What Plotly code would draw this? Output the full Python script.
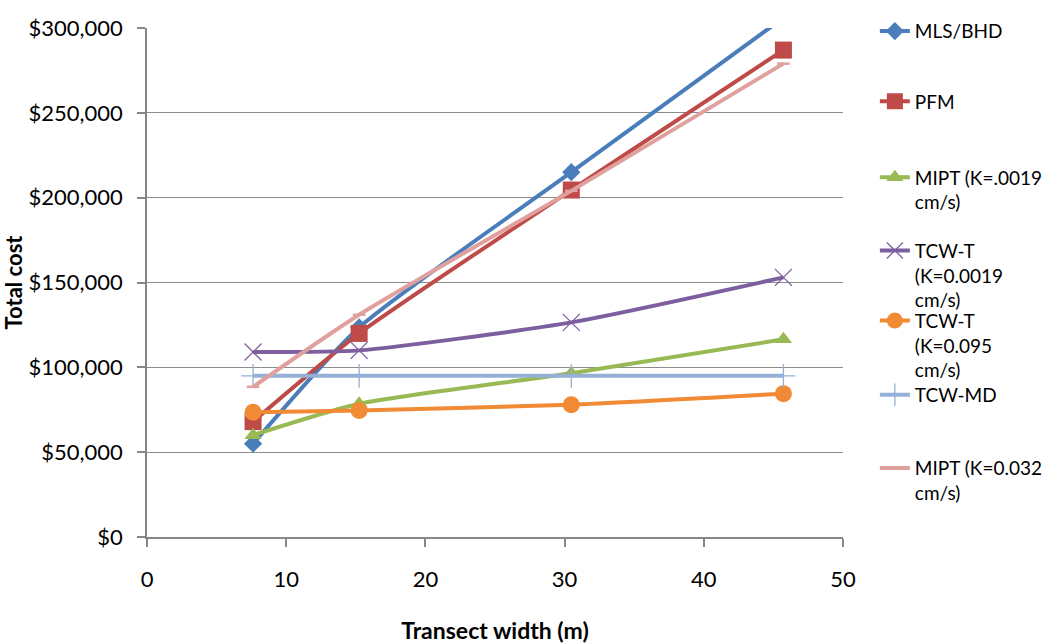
import plotly.graph_objects as go

widths = [7.62, 15.24, 30.48, 45.72]

series_names = [
    "MLS/BHD",
    "PFM",
    "MIPT (K=.0019<br>cm/s)",
    "TCW-T<br>(K=0.0019<br>cm/s)",
    "TCW-T<br>(K=0.095<br>cm/s)",
    "TCW-MD",
    "MIPT (K=0.032<br>cm/s)",
]

mls_bhd = [55000, 123500, 215000, 306000]
pfm = [68000, 120000, 204500, 287000]
mipt_0019 = [60000, 78500, 96500, 116500]
tcw_t_0019 = [109000, 110000, 126500, 153000]
tcw_t_095 = [73500, 74500, 78000, 84500]
tcw_md = [95000, 95000, 95000, 95000]
mipt_032 = [88500, 131000, 204000, 279000]

y_ticks = [0, 50000, 100000, 150000, 200000, 250000, 300000]
y_tick_labels = ["$0", "$50,000", "$100,000", "$150,000", "$200,000", "$250,000", "$300,000"]
x_ticks = [0, 10, 20, 30, 40, 50]

values = [mls_bhd, pfm, mipt_0019, tcw_t_0019, tcw_t_095, tcw_md, mipt_032]
colors = ["#4A7EBB", "#BE4B48", "#98B954", "#7D5FA0", "#F08A35", "#94B0D6", "#E0A09E"]
symbols = ["diamond", "square", "triangle-up", "x-thin", "circle", "cross-thin", "line-ew"]
sizes = [14, 17, 15, 17, 17, 17, 9]
legend_centers = [29, 100, 177, 251, 322, 397, 471]

FONT = "Lato"
W, H = 1060, 644
L, R, T, B = 147, 214, 22, 107
plot_w = W - L - R
plot_h = H - T - B

fig = go.Figure()
for i, (name, vals) in enumerate(zip(series_names, values)):
    thin = symbols[i] in ("x-thin", "cross-thin", "line-ew")
    marker = dict(symbol=symbols[i], size=sizes[i], color=colors[i])
    if thin:
        marker["line"] = dict(color=colors[i], width=1.3 if symbols[i] != "line-ew" else 2.5)
    else:
        marker["line"] = dict(width=0)
    lg = "legend" if i == 0 else f"legend{i+1}"
    fig.add_trace(go.Scatter(
        x=widths, y=vals, name=name, mode="lines+markers",
        line=dict(color=colors[i], width=4, shape="spline", smoothing=0.6),
        marker=marker, legend=lg,
    ))

layout_legends = {}
for i, c in enumerate(legend_centers):
    key = "legend" if i == 0 else f"legend{i+1}"
    top_px = c - 23
    layout_legends[key] = dict(
        x=(878 - L) / plot_w, xanchor="left",
        y=(H - B - top_px) / plot_h, yanchor="top",
        bgcolor="rgba(0,0,0,0)", borderwidth=0,
        font=dict(family=FONT, size=19, color="#000000"),
        valign="top", itemwidth=30, tracegroupgap=0,
    )

fig.update_layout(
    width=W, height=H,
    margin=dict(l=L, r=R, t=T, b=B),
    paper_bgcolor="white", plot_bgcolor="white",
    font=dict(family=FONT, size=21, color="#000000"),
    showlegend=True,
    **layout_legends,
)

fig.update_xaxes(
    range=[0, 50], tickvals=x_ticks, ticktext=[str(v) for v in x_ticks],
    automargin=False,
    showgrid=False, zeroline=False,
    showline=True, linecolor="#868686", linewidth=1.5,
    ticks="outside", ticklen=8, tickcolor="#868686", tickwidth=1.5,
    ticklabelstandoff=14,
    tickfont=dict(family=FONT, size=22),
    title=dict(text="<b>Transect width (m)</b>", font=dict(family=FONT, size=23), standoff=34),
)
fig.update_yaxes(
    range=[0, 300000], tickvals=y_ticks, ticktext=y_tick_labels,
    automargin=False,
    showgrid=True, gridcolor="#8C8C8C", gridwidth=1.3, zeroline=False,
    showline=True, linecolor="#868686", linewidth=1.5,
    ticks="outside", ticklen=8, tickcolor="#868686", tickwidth=1.5,
    ticklabelstandoff=10,
    tickfont=dict(family=FONT, size=22),
    title=dict(text="<b>Total cost</b>", font=dict(family=FONT, size=22), standoff=0),
)

fig.write_html("out.html")
